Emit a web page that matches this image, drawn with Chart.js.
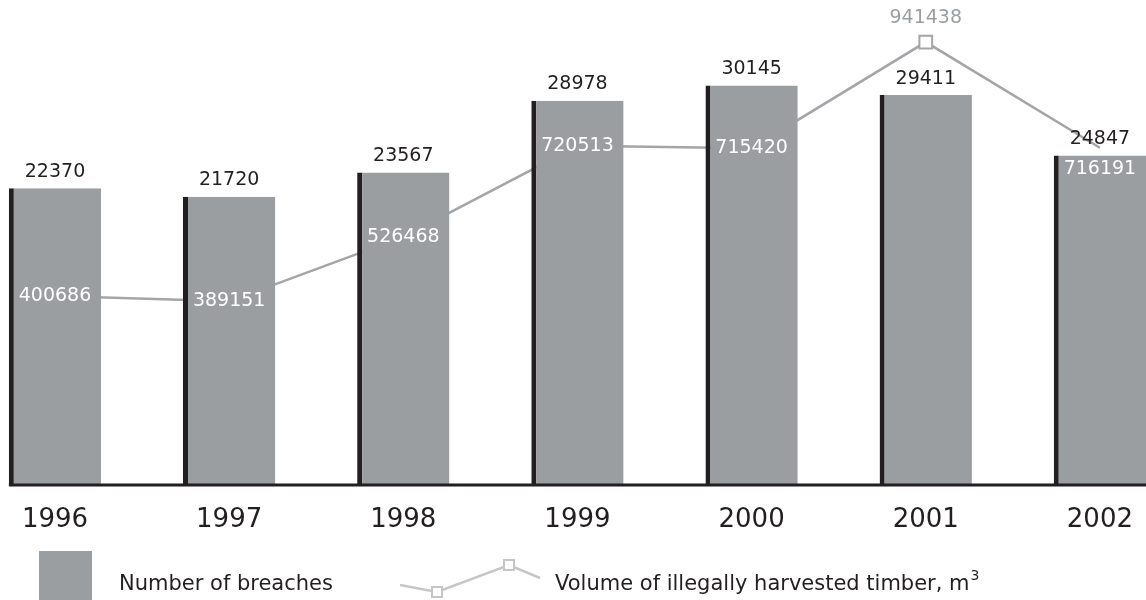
<!DOCTYPE html>
<html>
<head>
<meta charset="utf-8">
<script src="https://cdn.jsdelivr.net/npm/chart.js@4.4.1/dist/chart.umd.min.js"></script>
<style>
  html, body { margin: 0; padding: 0; background: #fff; }
  #wrap { width: 1146px; height: 600px; position: relative; }
</style>
</head>
<body>
<div id="wrap"><canvas id="chart"></canvas></div>
<script>
// --- Datos ---
const years = ['1996', '1997', '1998', '1999', '2000', '2001', '2002'];
const breaches = [22370, 21720, 23567, 28978, 30145, 29411, 24847];
const volume = [400686, 389151, 526468, 720513, 715420, 941438, 716191];
const breachesLabel = 'Number of breaches';
const volumeLabel = 'Volume of illegally harvested timber, m';

const FONT = '"DejaVu Sans", sans-serif';
const BAR = '#9b9ea1';
const EDGE = '#231f20';
const LINE = '#a3a5a8';
const TEXT = '#231f20';

// etiquetas de valores + linea base
const valueLabels = {
    id: 'valueLabels',
    afterDatasetsDraw(chart) {
        const ctx = chart.ctx;
        const bars = chart.getDatasetMeta(0).data;
        const pts = chart.getDatasetMeta(1).data;
        ctx.save();
        ctx.textAlign = 'center';
        ctx.font = '19px ' + FONT;

        bars.forEach((b, i) => {
            ctx.fillStyle = TEXT;
            ctx.textBaseline = 'bottom';
            ctx.fillText(String(breaches[i]), b.x, b.y - 7);
        });

        pts.forEach((p, i) => {
            const top = bars[i].y;
            if (p.y < top - 10) {
                ctx.fillStyle = BAR;
                ctx.textBaseline = 'bottom';
                ctx.fillText(String(volume[i]), p.x, p.y - 15);
            } else {
                ctx.fillStyle = '#ffffff';
                ctx.textBaseline = 'middle';
                ctx.fillText(String(volume[i]), p.x, Math.max(p.y, top + 14));
            }
        });

        // linea del eje
        const y0 = chart.scales.y.getPixelForValue(0);
        ctx.strokeStyle = EDGE;
        ctx.lineWidth = 3;
        ctx.beginPath();
        ctx.moveTo(bars[0].x - bars[0].width / 2, y0 + 1);
        ctx.lineTo(chart.width, y0 + 1);
        ctx.stroke();
        ctx.restore();
    }
};

// leyenda dibujada a mano
const customLegend = {
    id: 'customLegend',
    afterDraw(chart) {
        const ctx = chart.ctx;
        ctx.save();
        ctx.fillStyle = BAR;
        ctx.fillRect(39, 551, 53, 49);

        ctx.fillStyle = TEXT;
        ctx.font = '21px ' + FONT;
        ctx.textAlign = 'left';
        ctx.textBaseline = 'alphabetic';
        ctx.fillText(breachesLabel, 119, 590);

        const path = [[400, 585], [437, 592], [509, 565], [540, 578]];
        ctx.strokeStyle = '#c4c6c8';
        ctx.lineWidth = 2.5;
        ctx.beginPath();
        path.forEach((p, i) => i ? ctx.lineTo(p[0], p[1]) : ctx.moveTo(p[0], p[1]));
        ctx.stroke();
        ctx.fillStyle = '#fff';
        ctx.lineWidth = 2;
        [path[1], path[2]].forEach(p => {
            ctx.fillRect(p[0] - 5, p[1] - 5, 10, 10);
            ctx.strokeRect(p[0] - 5, p[1] - 5, 10, 10);
        });

        ctx.fillStyle = TEXT;
        ctx.fillText(volumeLabel, 555, 590);
        const w = ctx.measureText(volumeLabel).width;
        ctx.font = '14px ' + FONT;
        ctx.fillText('3', 555 + w + 1, 580);
        ctx.restore();
    }
};

document.addEventListener('DOMContentLoaded', () => {
    const ctx = document.getElementById('chart');
    new Chart(ctx, {
        type: 'bar',
        data: {
            labels: years,
            datasets: [{
                type: 'bar',
                label: breachesLabel,
                data: breaches,
                backgroundColor: BAR,
                borderColor: EDGE,
                borderWidth: { left: 5, right: 0, top: 0, bottom: 0 },
                borderSkipped: false,
                barPercentage: 1,
                categoryPercentage: 0.53,
                yAxisID: 'y',
                order: 1,
                clip: false
            }, {
                type: 'line',
                label: volumeLabel,
                data: volume,
                borderColor: LINE,
                borderWidth: 2.5,
                pointStyle: 'rect',
                pointRadius: (c) => {
                    const s = c.chart.scales;
                    if (!s.y || !s.y2) return 0;
                    const i = c.dataIndex;
                    return s.y2.getPixelForValue(volume[i]) < s.y.getPixelForValue(breaches[i]) - 10 ? 9 : 0;
                },
                pointBackgroundColor: '#ffffff',
                pointBorderColor: LINE,
                pointBorderWidth: 2,
                tension: 0,
                yAxisID: 'y2',
                order: 2,
                clip: false
            }]
        },
        options: {
            responsive: true,
            maintainAspectRatio: false,
            animation: false,
            layout: { padding: { left: 55, right: 46, top: 8, bottom: 0 } },
            scales: {
                x: {
                    offset: false,
                    grid: { display: false },
                    border: { display: false },
                    ticks: {
                        color: TEXT,
                        font: { size: 26, family: FONT },
                        padding: 13,
                        autoSkip: false,
                        maxRotation: 0
                    },
                    afterFit: (s) => { s.height = 116; }
                },
                y: { display: false, min: 0, max: 36000 },
                y2: { display: false, min: 0, max: 1014000 }
            },
            plugins: {
                legend: { display: false },
                tooltip: { enabled: false }
            }
        },
        plugins: [valueLabels, customLegend]
    });
});
</script>
</body>
</html>
